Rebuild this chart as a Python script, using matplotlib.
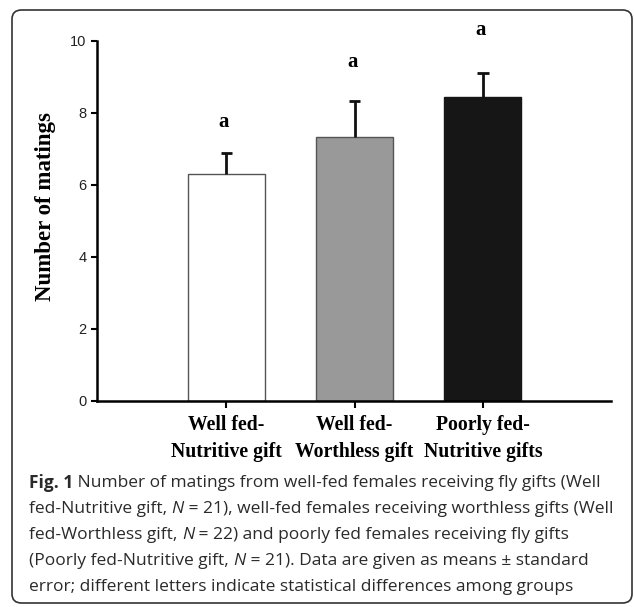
import matplotlib
matplotlib.use("Agg")
import matplotlib.pyplot as plt
from matplotlib.patches import FancyBboxPatch

# --- data ---
groups = ["Well fed-\nNutritive gift", "Well fed-\nWorthless gift", "Poorly fed-\nNutritive gifts"]
means = [6.3, 7.33, 8.45]
sems = [0.6, 1.0, 0.65]
letters = ["a", "a", "a"]
letter_y = [7.75, 9.42, 10.3]
bar_colors = ["white", "#999999", "#161616"]

caption = [
    [("Fig. 1", "bold"), (" Number of matings from well-fed females receiving fly gifts (Well", "normal")],
    [("fed-Nutritive gift, ", "normal"), ("N", "italic"), (" = 21), well-fed females receiving worthless gifts (Well", "normal")],
    [("fed-Worthless gift, ", "normal"), ("N", "italic"), (" = 22) and poorly fed females receiving fly gifts", "normal")],
    [("(Poorly fed-Nutritive gift, ", "normal"), ("N", "italic"), (" = 21). Data are given as means \u00b1 standard", "normal")],
    [("error; different letters indicate statistical differences among groups", "normal")],
]

serif = "Liberation Serif"
sans = "Liberation Sans"
cap_font = "Open Sans"

fig = plt.figure(figsize=(6.34, 6.07), dpi=100)

# rounded frame round the whole figure
frame = FancyBboxPatch((12 / 634, 1 - 603 / 607), (632 - 12) / 634, (603 - 10) / 607,
                       boxstyle="round,pad=0,rounding_size=0.015",
                       transform=fig.transFigure, fill=False,
                       edgecolor="#333333", linewidth=1.2)
fig.patches.append(frame)

ax = fig.add_axes([97 / 634, 1 - 401 / 607, (611 - 97) / 634, 360 / 607])
x = list(range(len(groups)))
ax.bar(x, means, width=0.6, color=bar_colors, edgecolor=["#555555", "#555555", "#161616"],
       linewidth=1.0, zorder=2)

# error bars: upper half only
tops = [m + s for m, s in zip(means, sems)]
ax.vlines(x, means, tops, color="#111111", linewidth=2, zorder=3)
ax.hlines(tops, [xi - 0.045 for xi in x], [xi + 0.045 for xi in x],
          color="#111111", linewidth=2, zorder=3)

for xi, yi, t in zip(x, letter_y, letters):
    ax.text(xi - 0.02, yi, t, ha="center", va="center", fontsize=15,
            fontweight="bold", family=serif, clip_on=False)

ax.set_xlim(-1.01, 3.0)
ax.set_ylim(0, 10)
ax.set_xticks(x)
ax.set_xticklabels(groups, fontsize=14.2, fontweight="bold", family=serif, linespacing=1.5)
ax.set_yticks([0, 2, 4, 6, 8, 10])
ax.tick_params(axis="y", labelsize=10.5, direction="out", length=4.5, width=1.5, pad=3,
               labelcolor="#222222")
ax.tick_params(axis="x", direction="out", length=5, width=1.5, pad=5)
for lbl in ax.get_yticklabels():
    lbl.set_family(sans)
ax.spines["top"].set_visible(False)
ax.spines["right"].set_visible(False)
ax.spines["left"].set_linewidth(1.8)
ax.spines["bottom"].set_linewidth(1.8)
ax.set_ylabel("Number of matings", fontsize=16.5, fontweight="bold", family=serif)
ax.yaxis.set_label_coords(-0.08, 0.539)

# --- caption, drawn piece by piece ---
fig.canvas.draw()
renderer = fig.canvas.get_renderer()
y0 = 483
line_h = 26
for i, parts in enumerate(caption):
    xpix = 29
    ypix = y0 + i * line_h
    for txt, style in parts:
        kw = dict(fontsize=12.5, family=cap_font, va="center", ha="left")
        if style == "bold":
            kw["fontweight"] = "bold"
        if style == "italic":
            kw["fontstyle"] = "italic"
        t = fig.text(xpix / 634, 1 - ypix / 607, txt, color="#2a2a2a", **kw)
        bb = t.get_window_extent(renderer=renderer)
        xpix += bb.width

fig.savefig("out.png", dpi=100)
